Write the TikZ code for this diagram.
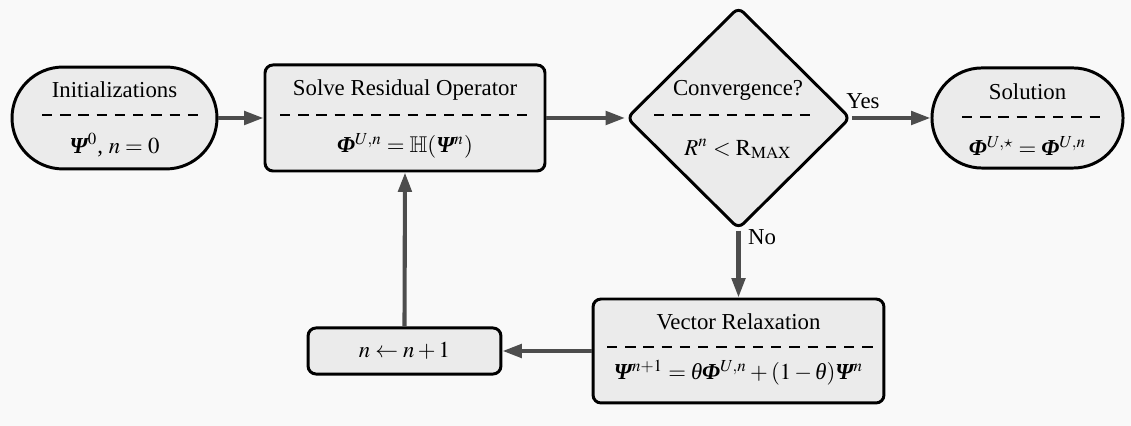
\documentclass[tikz,border=0pt]{standalone}
\usepackage{amsmath}
\usepackage{amssymb}
\usepackage{mathptmx}
\usepackage[no-math]{fontspec}
\setmainfont{Liberation Serif}
\usetikzlibrary{shapes.geometric,shapes.misc,arrows.meta}
\newcommand{\bgPsi}{\text{\bfseries\itshape Ψ}}
\newcommand{\bgPhi}{\text{\bfseries\itshape Φ}}
\newcommand{\gth}{\text{\itshape θ}}
\definecolor{bgc}{HTML}{F9F9F9}
\definecolor{boxfill}{HTML}{EBEBEB}
\definecolor{arrc}{HTML}{4D4D4D}
\begin{document}
\begin{tikzpicture}[x=0.4386pt,y=-0.4386pt,
  blk/.style={draw=black, line width=1.3pt, fill=boxfill, inner sep=0pt},
  rbox/.style={blk, rectangle, rounded corners=3.5pt},
  stadium/.style={blk, rounded rectangle},
  decision/.style={blk, diamond, rounded corners=3pt},
  txt/.style={inner sep=0pt},
  sep/.style={draw=black, dash pattern=on 4.5pt off 3.5pt, line width=1.2pt},
  conn/.style={draw=arrc, line width=1.8pt, -{Triangle[length=8.5pt,width=5.8pt]}}
]
\fill[bgc] (0,0) rectangle (1131,426);
\useasboundingbox (0,0) rectangle (1131,426);

% shapes
\node[stadium, minimum width=89.9pt, minimum height=44.7pt] (init) at (114.5,118) {};
\node[rbox, minimum width=122.8pt, minimum height=46.5pt] (solve) at (405,118) {};
\node[decision, minimum width=98.2pt, minimum height=97.4pt] (dec) at (738.5,118) {};
\node[stadium, minimum width=83.8pt, minimum height=43.9pt] (sol) at (1027.5,118) {};
\node[rbox, minimum width=127.6pt, minimum height=45.6pt] (vec) at (738.5,351) {};
\node[rbox, minimum width=84.6pt, minimum height=20.2pt] (inc) at (404.5,351) {};

% separators
\draw[sep] (42,115) -- (200,115);
\draw[sep] (280,115) -- (531,115);
\draw[sep] (654,115) -- (813,115);
\draw[sep] (962,117) -- (1102,117);
\draw[sep] (607,347) -- (876,347);

% texts
\node[txt] (initT) at (114.5,90) {Initializations};
\node[txt] (initF) at (114.5,145) {$\bgPsi^0$, $n=0$};
\node[txt] (solveT) at (405,90) {Solve Residual Operator};
\node[txt] (solveF) at (405,146) {$\bgPhi^{U,n}=\mathbb{H}(\bgPsi^n)$};
\node[txt] (decT) at (738,90) {Convergence?};
\node[txt] (decF) at (738,149) {$R^n<\mathrm{R}_{\mathrm{MAX}}$};
\node[txt] (solT) at (1027.5,92) {Solution};
\node[txt] (solF) at (1027.5,146) {$\bgPhi^{U,\star}=\bgPhi^{U,n}$};
\node[txt] (vecT) at (738.5,322) {Vector Relaxation};
\node[txt] (vecF) at (738.5,373) {$\bgPsi^{n+1}=\gth\bgPhi^{U,n}+(1-\gth)\bgPsi^n$};
\node[txt] (incT) at (404.5,351) {$n\leftarrow n+1$};

% connectors
\draw[conn] (init.east) -- (solve.west);
\draw[conn] (solve.east) -- (dec.west);
\draw[conn] (dec.east) -- (sol.west);
\draw[conn] (dec.south) -- (vec.north);
\draw[conn] (vec.west) -- (inc.east);
\draw[conn] (inc.north) -- (solve.south);

% labels
\node[txt] (yes) at (863,101) {Yes};
\node[txt] (no) at (762,237) {No};
\end{tikzpicture}
\end{document}
